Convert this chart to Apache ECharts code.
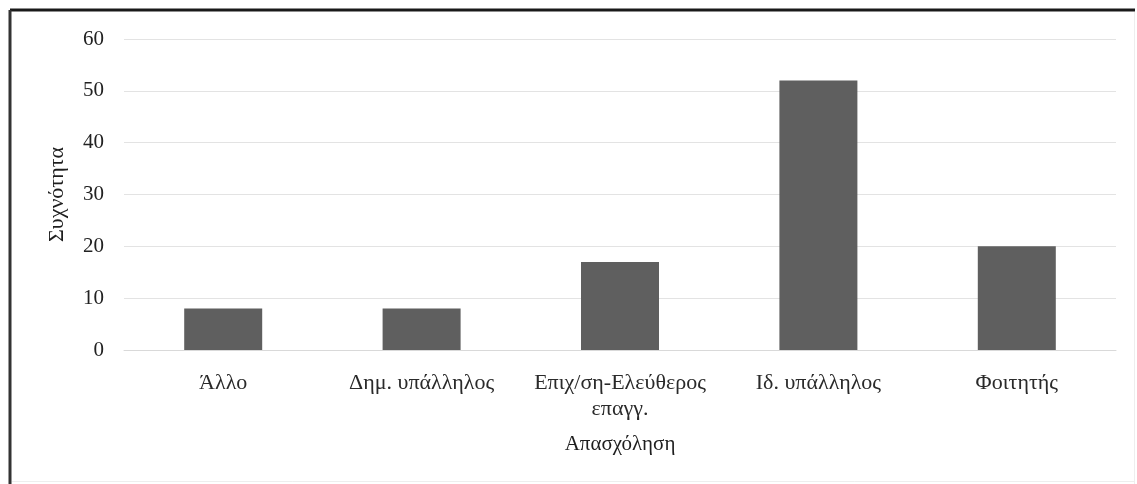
<!DOCTYPE html>
<html>
<head>
<meta charset="utf-8">
<script src="https://cdn.jsdelivr.net/npm/echarts@6/dist/echarts.min.js"></script>
<style>
  html, body { margin: 0; padding: 0; background: #ffffff; }
  #chart { width: 1137px; height: 484px; }
</style>
</head>
<body>
<div id="chart"></div>
<script>
// Occupation categories and their frequencies
const categories = ['Άλλο', 'Δημ. υπάλληλος', 'Επιχ/ση-Ελεύθερος\nεπαγγ.', 'Ιδ. υπάλληλος', 'Φοιτητής'];
const frequencies = [8, 8, 17, 52, 20];
const xTitle = 'Απασχόληση';
const yTitle = 'Συχνότητα';

const serif = '"Liberation Serif", "DejaVu Serif", serif';
const chart = echarts.init(document.getElementById('chart'), null, { renderer: 'canvas' });

chart.setOption({
  animation: false,
  backgroundColor: '#ffffff',
  grid: { left: 124, right: 21, top: 39, bottom: 134 },
  xAxis: {
    type: 'category',
    data: categories,
    name: xTitle,
    nameLocation: 'middle',
    nameGap: 84,
    nameTextStyle: { fontFamily: serif, fontSize: 21, color: '#1e1e1e' },
    axisLine: { show: true, lineStyle: { color: '#d9d9d9', width: 1 } },
    axisTick: { show: false },
    axisLabel: {
      fontFamily: serif, fontSize: 22, color: '#2a2a2a', margin: 20,
      lineHeight: 26, interval: 0
    }
  },
  yAxis: {
    type: 'value',
    min: 0, max: 60, interval: 10,
    name: yTitle,
    nameLocation: 'middle',
    nameRotate: 90,
    nameGap: 56,
    nameTextStyle: { fontFamily: serif, fontSize: 22, color: '#1e1e1e' },
    axisLine: { show: false },
    axisTick: { show: false },
    axisLabel: { fontFamily: serif, fontSize: 21, color: '#222222', margin: 20 },
    splitLine: { lineStyle: { color: '#e3e3e3', width: 1 } }
  },
  series: [{
    type: 'bar',
    data: frequencies,
    barWidth: 78,
    itemStyle: { color: '#5f5f5f' }
  }],
  graphic: [
    // chart frame: dark top and left edges, faint right and bottom edges
    { type: 'line', shape: { x1: 10, y1: 10, x2: 1135, y2: 10 }, style: { stroke: '#1a1a1a', lineWidth: 3 }, z: 10 },
    { type: 'line', shape: { x1: 10, y1: 10, x2: 10, y2: 484 }, style: { stroke: '#333333', lineWidth: 3 }, z: 10 },
    { type: 'line', shape: { x1: 1134.5, y1: 12, x2: 1134.5, y2: 484 }, style: { stroke: '#eeeeee', lineWidth: 1 }, z: 10 },
    { type: 'line', shape: { x1: 12, y1: 481.5, x2: 1135, y2: 481.5 }, style: { stroke: '#eeeeee', lineWidth: 1 }, z: 10 }
  ]
});
</script>
</body>
</html>
